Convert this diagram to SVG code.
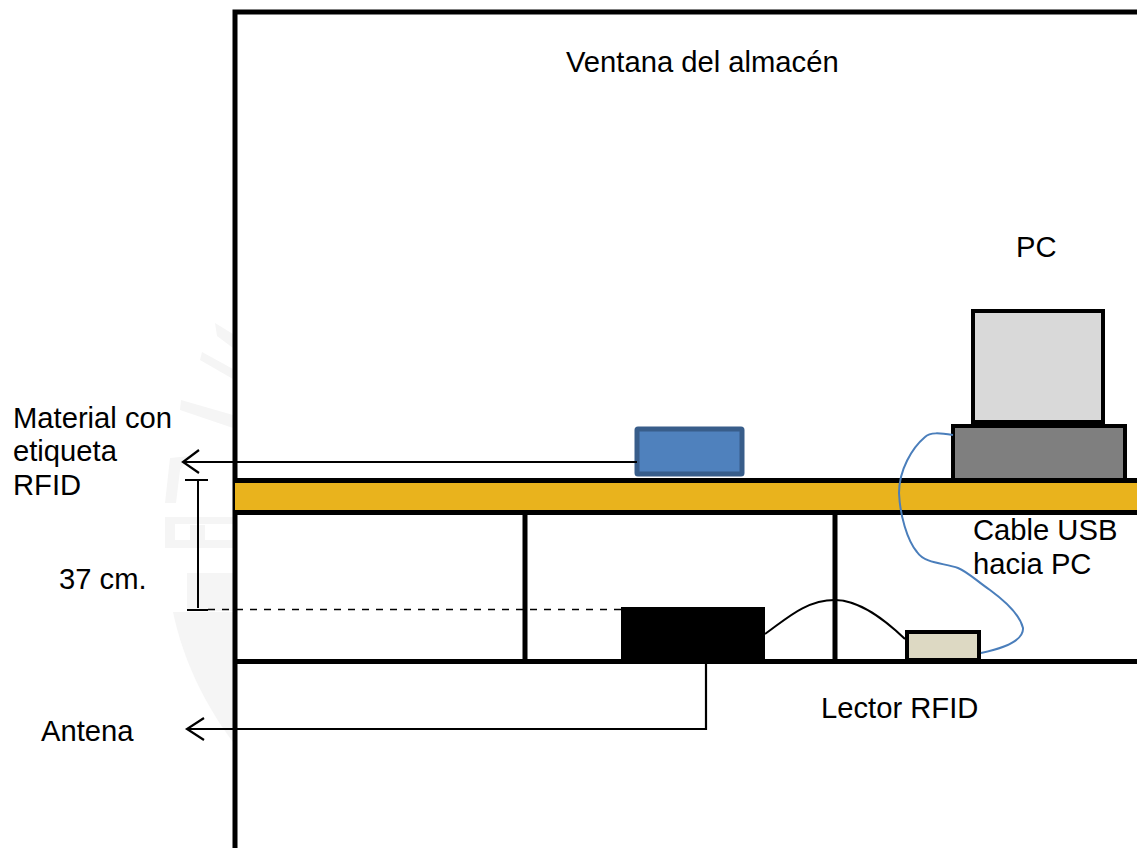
<svg xmlns="http://www.w3.org/2000/svg" width="1137" height="848" viewBox="0 0 1137 848">
<style>
text{font-family:"Liberation Sans",Arial,sans-serif;font-size:29.2px;fill:#000}
.w{fill:none;stroke:#000;stroke-width:5}
.t{fill:none;stroke:#000;stroke-width:2}
.a{fill:none;stroke:#000;stroke-width:2.2}
.c{fill:none;stroke:#4a7ebb;stroke-width:2}
</style>
<rect width="1137" height="848" fill="#fff"/>
<g id="watermark" fill="#f5f5f5">
<path d="M215 323L233 334V348L217 336Z"/>
<path d="M202 352L233 369V379L200 360Z"/>
<path d="M181 400L233 415V428L180 410Z"/>
<path d="M170 458L190 456L180 470L176 503H165Z"/>
<path d="M165 517H233V524H175V540H190V525H205V540H233V548H165Z"/>
<path d="M187 573H233V611H187Z"/>
<path d="M173 612H233V742C205 705 183 660 173 612Z"/>
</g>
<g id="structure">
<path class="w" d="M235 848V12H1137"/>
<rect x="235" y="481" width="902" height="31" fill="#e9b31d"/>
<path class="w" d="M235 480.500H1137M235 512.500H1137M235 661.500H1137M525 512V661M835 512V661"/>
</g>
<g id="antena"><rect x="621" y="607" width="144" height="54" fill="#000"/></g>
<g id="material"><rect x="637" y="429" width="105" height="45" rx="1" fill="#4f81bd" stroke="#385d8a" stroke-width="5"/></g>
<g id="monitor"><rect x="973" y="311" width="130" height="111" fill="#d9d9d9" stroke="#000" stroke-width="4"/></g>
<g id="pc"><rect x="953" y="426" width="172" height="54" fill="#7f7f7f" stroke="#000" stroke-width="4"/></g>
<g id="lector"><rect x="907" y="632" width="72" height="28" fill="#ddd9c3" stroke="#000" stroke-width="4"/></g>
<g id="connectors">
<path class="c" d="M953 435C940 433 930 432 925 437C912 448 899 470 899 493C900 515 907 540 917 552C925 564 945 563 958 568C968 572 978 582 990 590C1005 601 1020 615 1023 628C1024 642 1000 649 981 653"/>
<path class="t" d="M765 634C785 620 805 600 835 600C860 600 885 620 905 639"/>
<path class="a" d="M637 462H183M199 450L183 462L199 473"/>
<path class="a" d="M706 661V729H187M204 718L187 729L204 740"/>
<path class="t" d="M185 480H208M198 480V608M187 610H208"/>
<path d="M208 609.500H622" fill="none" stroke="#000" stroke-width="1.500" stroke-dasharray="7 7"/>
</g>
<g id="labels">
<text x="566" y="72">Ventana del almacén</text>
<text x="1016" y="257">PC</text>
<text x="13" y="428">Material con</text>
<text x="13" y="461">etiqueta</text>
<text x="13" y="495">RFID</text>
<text x="59" y="589">37 cm.</text>
<text x="41" y="741">Antena</text>
<text x="821" y="718">Lector RFID</text>
<text x="973" y="540">Cable USB</text>
<text x="973" y="574">hacia PC</text>
</g>
</svg>
